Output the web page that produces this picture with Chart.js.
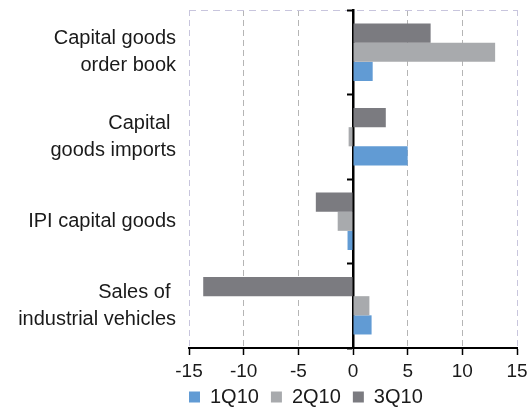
<!DOCTYPE html>
<html>
<head>
<meta charset="utf-8">
<script src="https://cdn.jsdelivr.net/npm/chart.js@4/dist/chart.umd.min.js"></script>
<style>
  html, body { margin: 0; padding: 0; background: #fff; }
  #wrap { width: 530px; height: 408px; position: relative; }
</style>
</head>
<body>
<div id="wrap"><canvas id="chart"></canvas></div>
<script>
// Capital goods indicators, quarterly change
const categories = [
    ['Capital goods', 'order book'],
    ['Capital ', 'goods imports'],
    'IPI capital goods',
    ['Sales of ', 'industrial vehicles']
];
const q1Values = [1.8, 5.0, -0.5, 1.7];    // 1Q10
const q2Values = [13.0, -0.4, -1.4, 1.5];  // 2Q10
const q3Values = [7.1, 3.0, -3.4, -13.7];  // 3Q10
const xTicks = [-15, -10, -5, 0, 5, 10, 15];

const textColor = '#1a1a1a';
const fontFamily = '"Liberation Sans", Arial, sans-serif';

// move legend so the first box lines up with the plot's left edge,
// and tuck it just under the axis labels
const legendShift = {
    id: 'legendShift',
    afterLayout(chart) {
        const lg = chart.legend;
        lg.left = chart.chartArea.left - lg.options.labels.padding;
        lg.top = chart.scales.x.bottom - 8;
    }
};

const ctx = document.getElementById('chart');
new Chart(ctx, {
    type: 'bar',
    data: {
        labels: categories,
        datasets: [
            { label: '3Q10', data: q3Values, backgroundColor: '#7b7b80', xAxisID: 'x', yAxisID: 'y' },
            { label: '2Q10', data: q2Values, backgroundColor: '#a8aaad', xAxisID: 'x', yAxisID: 'y' },
            { label: '1Q10', data: q1Values, backgroundColor: '#619bd4', xAxisID: 'x', yAxisID: 'y' }
        ]
    },
    options: {
        indexAxis: 'y',
        responsive: true,
        maintainAspectRatio: false,
        animation: false,
        categoryPercentage: 0.68,
        barPercentage: 1,
        layout: {
            padding: { top: 10, right: 13, bottom: 0, left: 0 }
        },
        plugins: {
            tooltip: { enabled: false },
            legend: {
                position: 'bottom',
                align: 'start',
                fullSize: false,
                reverse: true,
                maxHeight: 25,
                labels: {
                    boxWidth: 11,
                    boxHeight: 11,
                    padding: 12,
                    color: textColor,
                    font: { family: fontFamily, size: 20 }
                }
            }
        },
        scales: {
            x: {
                type: 'linear',
                min: xTicks[0],
                max: xTicks[xTicks.length - 1],
                afterBuildTicks: (scale) => {
                    scale.ticks = xTicks.map(v => ({ value: v }));
                },
                afterFit: (scale) => {
                    scale.height = 35;
                    scale.paddingLeft = 0;
                    scale.paddingRight = 0;
                },
                grid: {
                    color: (c) => (c.tick && Math.abs(c.tick.value) === 15) ? '#c8c5dd' : '#b5b5b5',
                    lineWidth: 1,
                    tickColor: '#000',
                    tickLength: 7,
                    tickWidth: 1.5
                },
                border: { display: true, color: '#000', width: 2, dash: [6, 4] },
                ticks: {
                    color: textColor,
                    padding: 5,
                    font: { family: fontFamily, size: 19 }
                }
            },
            y: {
                type: 'category',
                offset: true,
                afterFit: (scale) => {
                    scale.width = 189;
                    scale.paddingTop = 0;
                    scale.paddingBottom = 0;
                },
                grid: {
                    offset: true,
                    drawTicks: false,
                    color: (c) => c.index === 0 ? '#c8c5dd' : 'transparent'
                },
                border: { display: false, dash: [7, 5] },
                ticks: {
                    color: textColor,
                    padding: 13,
                    font: { family: fontFamily, size: 20, lineHeight: 1.35 }
                }
            },
            // zero line with category tick marks
            y2: {
                type: 'category',
                position: { x: 0 },
                offset: true,
                z: 1,
                grid: {
                    offset: true,
                    drawOnChartArea: false,
                    tickLength: 5,
                    tickColor: '#000',
                    tickWidth: 2
                },
                border: { display: true, color: '#000', width: 2.5 },
                ticks: { display: false }
            }
        }
    },
    plugins: [legendShift]
});
</script>
</body>
</html>
